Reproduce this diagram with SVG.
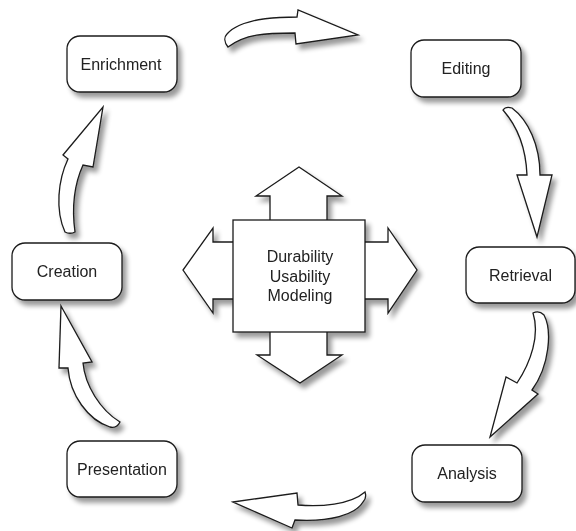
<svg xmlns="http://www.w3.org/2000/svg" width="576" height="531" viewBox="0 0 576 531">
<defs>
<filter id="sh" x="-20%" y="-20%" width="150%" height="150%">
<feGaussianBlur in="SourceAlpha" stdDeviation="2.5"/>
<feOffset dx="4" dy="5" result="b"/>
<feComponentTransfer><feFuncA type="linear" slope="0.4"/></feComponentTransfer>
<feMerge><feMergeNode/><feMergeNode in="SourceGraphic"/></feMerge>
</filter>
<style>
.n{fill:#fff;stroke:#1a1a1a;stroke-width:1.3}
.a{fill:#fff;stroke:#1a1a1a;stroke-width:1.3;stroke-linejoin:miter}
.t{font-family:"Liberation Sans",Arial,sans-serif;font-size:16px;fill:#222;text-anchor:middle}
</style>
</defs>
<rect width="576" height="531" fill="#fff"/>
<g id="connectors" filter="url(#sh)">
<path class="a" d="M228,47 C224,42 224,37 227,34 C237,22 262,17 297,17 L298,10 L358,35 L296,44 L295,33 C265,33 245,34 228,47 Z"/>
<path class="a" d="M503,110 C505,107 509,107 512,108 C528,120 540,145 540,175 L552,175 L537,237 L517,175 L527,175 C526,150 518,127 503,110 Z"/>
<path class="a" d="M533,313 C537,311 541,312 544,315 C552,330 550,365 532,390 L538,394 L490,437 L506,377 L517,383 C531,362 540,335 533,313 Z"/>
<path class="a" d="M233,502 L297,493 L298,505 C320,507 350,505 365,492 C366,495 366,499 363,502 C355,515 330,522 295,520 L292,528 Z"/>
<path class="a" d="M61,306 L92,362 L83,363 C85,385 100,410 120,422 C118,426 114,428 110,427 C88,420 70,395 68,368 L59,368 Z"/>
<path class="a" d="M103,107 L93,167 L83,165 C74,185 72,210 75,232 C71,234 67,233 65,232 C55,210 58,180 68,159 L63,155 Z"/>
</g>
<g id="center" filter="url(#sh)">
<polygon class="a" points="270,221 270,196 256,196 299,167 342,196 327,196 327,221"/>
<polygon class="a" points="270,331 270,355 257,355 300,383 342,355 327,355 327,331"/>
<polygon class="a" points="234,242 213,242 213,228 183,270 213,313 213,299 234,299"/>
<polygon class="a" points="364,242 388,242 388,228 417,270 388,313 388,299 364,299"/>
<rect class="n" x="233" y="220" width="132" height="112"/>
<text class="t" x="300" y="262">Durability</text>
<text class="t" x="300" y="281.5">Usability</text>
<text class="t" x="300" y="301">Modeling</text>
</g>
<g id="enrichment" filter="url(#sh)">
<rect class="n" x="67" y="36" width="110" height="56" rx="13"/>
<text class="t" x="121" y="69.5">Enrichment</text>
</g>
<g id="editing" filter="url(#sh)">
<rect class="n" x="411" y="40" width="110" height="57" rx="13"/>
<text class="t" x="466" y="74">Editing</text>
</g>
<g id="retrieval" filter="url(#sh)">
<rect class="n" x="466" y="247" width="109" height="56" rx="13"/>
<text class="t" x="520.5" y="280.5">Retrieval</text>
</g>
<g id="analysis" filter="url(#sh)">
<rect class="n" x="412" y="445" width="110" height="57" rx="13"/>
<text class="t" x="467" y="479">Analysis</text>
</g>
<g id="creation" filter="url(#sh)">
<rect class="n" x="12" y="243" width="110" height="57" rx="13"/>
<text class="t" x="67" y="277">Creation</text>
</g>
<g id="presentation" filter="url(#sh)">
<rect class="n" x="67" y="441" width="110" height="56" rx="13"/>
<text class="t" x="122" y="474.5">Presentation</text>
</g>
</svg>
